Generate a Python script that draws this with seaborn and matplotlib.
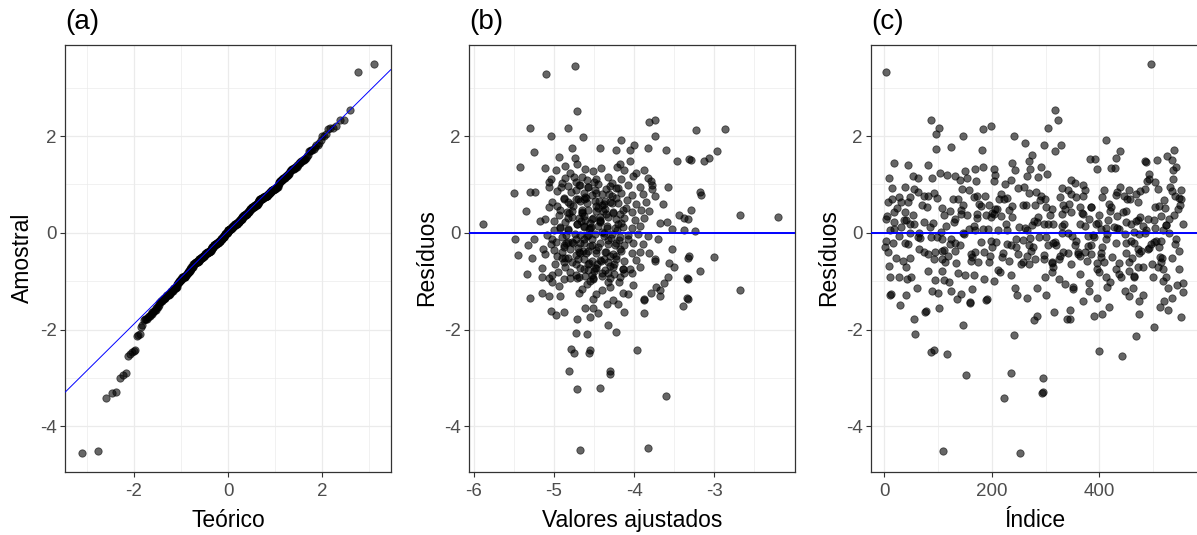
import matplotlib
matplotlib.use("Agg")
import matplotlib.pyplot as plt
from matplotlib.ticker import FixedLocator
import numpy as np
import pandas as pd
import seaborn as sns
from statistics import NormalDist

# ---------------- Panel (c): index vs residual ----------------
idx_c = [4,19,45,8,53,62,14,38,56,62, 14,28,47,7,31,44,19,38,3,53, 19,31,47,56,10,47,65,28,3,16,
         1,7,38,44,65,22,34,41,11,27, 42,50,11,12,41,61,29,55,58,
         87,101,97,147,97,124,81,104,116,131, 88,140,150,168,153,170,144,157,166,73,
         82,93,98,79,127,138,147,107,122,112, 132,143,153,172,73,91,114,147,169,87,
         98,107,122,132,141,73,82,108,119,132, 162,168,113,133,163,108,81,107,138,150,
         166,94,112,121,89,100,124,135,143,163, 160,160,76,77,102,147,87,93,116,152, 110,
         184,199,242,262,181,183,204,238,243,269, 270,206,204,235,225,266,173,188,217,229,
         248,260,269,214,223,238,257,263,177,195, 206,189,204,217,232,173,198,183,211,229,
         251,266,192,180,198,229,245,257,269,201, 235,196,220,248,266,175,195,232,257,269,
         211,215,186,204,235,243,246,266,190,191, 242,235,223,252,
         317,323,305,297,317,328,274,292,303,286, 348,354,370,331,342,348,282,292,299,327,
         357,370,280,300,311,333,336,348,364,370, 330,286,283,296,305,314,364,373,274,330,
         342,271,288,300,317,357,305,320,354,360, 333,342,280,296,311,312,327,348,364,314,
         311,299,325,336,351,364,284,300,351,370, 315,346,283,278,339,345,295,294,295,
         412,439,431,382,392,396,421,428,374,409, 433,438,446,455,467,405,430,452,471,418,
         421,449,384,399,433,381,415,449,458,471, 393,402,412,427,436,447,464,474,379,390,
         412,430,458,464,384,405,471,374,384,402, 424,449,461,377,396,409,455,471,396,430,
         399,436,455,464,465,413,440,419,381,414, 381,447,455,463,396,474,389,404,418,474,
         467,399,442,
         538,485,486,507,525,534,543,537,493,493, 503,537,489,531,509,534,552,475,484,540,
         552,520,549,504,521,546,539,515,529,475, 490,501,555,481,524,504,484,518,543,501,
         515,496,490,510,478,547,512,516,534,498, 481,509,518,547,500,518,523,555,545,528,
         481,555,535,520,512,528,552,501,496,
         # points hidden in the crowded band around zero
         5,18,24,40,48,63,70,85,92,105, 111,125,129,142,149,161,167,179,186,200,
         207,219,226,237,244,255,261,273,279,290, 296,308,313,325,331,343,349,361,367,378,
         385,397,403,414,420,432,437,450,456,468, 473,487,492,505,511,523,530,541,548,9,
         36,66,95,158,209,276,334,388,444,514]
res_c = [3.33,1.44,1.41,1.13,1.17,1.13,0.92,0.94,0.91,0.84, 0.70,0.74,0.74,0.63,0.63,0.63,0.43,0.43,0.29,0.36,
         0.22,0.12,0.19,0.19,0.06,-0.01,-0.01,-0.06,-0.16,-0.21, -0.30,-0.39,-0.21,-0.24,-0.33,-0.52,-0.59,-0.71,-0.92,-0.92,
         -0.95,-0.92,-1.28,-1.27,-1.28,-1.14,-1.50,-1.77,-2.08,
         2.34,2.17,2.05,1.99,1.74,1.77,1.41,1.24,1.20,1.17, 1.13,1.10,1.27,1.32,1.13,1.08,0.91,0.88,0.74,0.77,
         0.77,0.83,0.72,0.53,0.69,0.69,0.58,0.51,0.46,0.37, 0.29,0.39,0.37,0.39,0.22,0.21,0.15,0.00,0.05,-0.09,
         -0.09,-0.12,-0.23,-0.21,-0.26,-0.39,-0.43,-0.37,-0.47,-0.37, -0.43,-0.40,-0.61,-0.62,-0.50,-0.54,-0.79,-0.78,-0.83,-0.87,
         -0.87,-0.97,-0.97,-1.01,-1.21,-1.24,-1.21,-1.37,-1.26,-1.16, -1.43,-1.45,-1.63,-1.61,-1.56,-1.90,-2.47,-2.43,-2.50,-2.94, -4.50,
         2.14,2.21,2.01,1.86,1.72,1.37,1.31,1.44,1.29,1.48, 1.32,1.20,1.08,1.10,1.01,1.17,0.77,0.77,0.81,0.72,
         0.92,0.94,0.82,0.70,0.70,0.55,0.57,0.57,0.60,0.57, 0.50,0.37,0.39,0.34,0.48,0.30,0.32,0.08,0.05,0.05,
         0.12,0.06,0.08,-0.19,-0.16,-0.23,-0.12,-0.14,-0.26,-0.30, -0.25,-0.47,-0.42,-0.43,-0.47,-0.61,-0.61,-0.59,-0.61,-0.64,
         -0.76,-0.80,-0.95,-0.99,-0.87,-1.14,-1.28,-1.35,-1.38,-1.36, -2.11,-2.90,-3.41,-4.54,
         2.53,2.34,2.17,1.81,1.70,1.81,1.60,1.37,1.22,1.15, 1.10,1.03,0.99,0.92,0.88,0.81,0.84,0.77,0.70,0.74,
         0.74,0.77,0.58,0.53,0.50,0.57,0.50,0.43,0.53,0.39, 0.39,0.32,0.22,0.19,0.19,0.19,0.19,0.15,0.17,-0.01,
         -0.01,-0.11,-0.09,-0.09,-0.19,-0.16,-0.26,-0.26,-0.26,-0.40, -0.40,-0.42,-0.54,-0.54,-0.61,-0.63,-0.47,-0.64,-0.47,-0.71,
         -0.81,-0.92,-0.95,-1.06,-1.12,-0.85,-1.14,-1.28,-1.16,-1.40, -1.64,-1.59,-1.72,-1.81,-1.79,-1.79,-2.99,-3.30,-3.28,
         1.92,1.68,1.55,1.53,1.53,1.32,1.34,1.34,0.88,0.88, 0.84,0.94,0.77,0.88,0.81,0.75,0.79,0.70,0.63,0.60,
         0.53,0.46,0.53,0.36,0.34,0.29,0.26,0.22,0.19,0.26, 0.19,0.08,0.10,0.12,0.08,-0.02,0.01,-0.02,-0.06,-0.09,
         -0.12,-0.21,-0.16,-0.21,-0.26,-0.30,-0.33,-0.39,-0.43,-0.42, -0.50,-0.42,-0.52,-0.59,-0.63,-0.61,-0.61,-0.71,-0.74,-0.74,
         -0.81,-0.85,-0.78,-0.92,-0.90,-0.92,-0.92,-1.02,-1.03,-1.12, -1.21,-1.21,-1.31,-1.14,-1.34,-1.40,-1.71,-1.68,-1.54,-1.68,
         -2.14,-2.45,-2.54,
         1.72,1.48,1.46,1.50,1.59,1.50,1.37,1.29,1.22,1.12, 1.05,1.12,1.08,0.94,0.90,0.86,0.88,0.86,0.90,0.77,
         0.69,0.67,0.57,0.53,0.51,0.50,0.36,0.34,0.29,0.32, 0.28,0.26,0.19,0.15,0.17,0.10,-0.01,0.05,-0.12,-0.18,
         -0.16,-0.23,-0.34,-0.30,-0.37,-0.37,-0.50,-0.52,-0.52,-0.64, -0.71,-0.71,-0.74,-0.74,-0.92,-0.99,-0.92,-1.03,-1.08,-1.14,
         -1.28,-1.23,-1.35,-1.40,-1.54,-1.59,-1.74,-1.95,3.49,
         0.35,0.08,0.52,0.27,-0.52,-0.08,0.58,0.12,-0.55,0.02, -0.35,-0.12,0.22,0.47,-0.02,-0.58,0.15,0.55,-0.40,0.40,
         -0.18,-0.50,0.18,0.33,-0.30,-0.65,0.10,-0.38,0.25,0.68, -0.45,0.36,-0.22,-0.55,0.14,0.60,-0.06,-0.44,0.41,-0.27,
         0.53,0.20,-0.50,-0.03,0.46,0.11,-0.62,-0.20,0.70,0.24, -0.42,0.06,-0.31,-0.16,0.56,0.17,-0.01,-0.24,0.72,-0.68,
         0.26,-0.11,-0.39,0.07,0.50,-0.29,0.19,-0.04,0.42,-0.60]

# ---------------- Panel (b): fitted vs residual ----------------
fit_b = [-5.89,-5.30,-4.82,-5.04,-5.25,-5.42,-4.94,-4.78,-5.11,-4.97, -4.86,-4.74,-5.50,-5.30,-5.23,-5.06,-5.35,-5.17,-5.48,-5.32,
         -5.25,-5.45,-5.27,-5.33,-5.15,-5.15,-5.02,-5.30,-5.15,-5.06, -4.93,-5.04,-4.98,-4.88,-4.94,-5.02,-4.88,-4.80,-4.71,-4.72,
         -4.79,-4.75,-4.81,-4.71,-4.71,
         -5.06,-5.04,-4.96,-4.90,-4.86,-4.80,-4.82,-4.73,-4.71,-5.06, -5.02,-4.96,-4.88,-4.82,-4.73,-5.11,-5.00,-4.94,-4.86,-4.78,
         -4.71,-4.92,-4.82,-5.08,-5.02,-5.04,-4.98,-4.90,-4.82,-4.73, -5.13,-5.00,-4.90,-4.80,-4.69,-5.11,-4.96,-4.86,-4.73,-4.99,
         -4.88,-4.82,-5.06,-4.80,-4.71,-4.69,
         -4.74,-5.10,-4.67,-3.83,
         -3.81,-3.74,-3.74,-4.64,-4.16,-4.42,-4.00,-3.83,-3.60,-4.22, -4.05,-3.46,-3.31,-4.05,-4.18,-4.21,-3.57,-3.79,-3.78,-3.64,
         -3.44,-3.37,-3.59,-3.67,-3.52,-3.38,-3.70,-3.53,-3.33,-3.56, -3.50,-3.74,-3.34,-3.57,-3.63,-3.72,-3.67,-3.67,-3.79,-3.87,
         -3.88,-3.39,-3.34,-3.88,-4.12,-4.22,-4.32,-3.96,-4.59,-4.55, -4.56,-4.30,-4.30,-4.42,-3.60,-4.61,-4.51,-4.55,-4.45,-4.51,
         -4.47,-4.34,-4.26,-4.20,-4.14,-4.07,-4.01,-4.03,-4.12,-4.19, -4.30,-4.40,-4.65,-4.59,-4.62,-4.52,
         -4.61,-4.51,-4.41,-4.12,-3.97,-3.87,
         -4.65,-4.47,-4.32,-4.16,-4.01,-3.83,
         -4.69,-4.57,-4.45,-4.30,-4.20,-4.07,-3.93,-3.77,
         -4.63,-4.53,-4.40,-4.28,-4.16,-4.03,-3.89,-3.74,
         -4.67,-4.59,-4.49,-4.38,-4.30,-4.20,-4.09,-3.97,-3.85,
         -4.65,-4.57,-4.47,-4.36,-4.26,-4.14,-4.03,-3.91,-3.81,
         -4.69,-4.61,-4.51,-4.42,-4.32,-4.22,-4.12,-3.99,-3.87,
         -4.63,-4.55,-4.45,-4.34,-4.24,-4.14,-4.03,-3.93,
         -4.67,-4.59,-4.49,-4.38,-4.28,-4.18,-4.07,-3.95,-3.83,
         -4.63,-4.53,-4.42,-4.32,-4.22,-4.12,-4.01,-3.89,
         -4.67,-4.57,-4.47,-4.36,-4.26,-4.16,-4.03,-3.93,-3.81,
         -4.63,-4.53,-4.42,-4.32,-4.22,-4.12,-3.97,-3.74,
         -4.67,-4.57,-4.47,-4.36,-4.26,-4.14,-4.05,-3.93,
         -4.61,-4.51,-4.40,-4.30,-4.18,
         -4.72,-4.60,-4.48,-4.35,-4.55,-4.40,-4.62,-4.45,-4.30,-4.58, -4.40,-4.25,-4.50,-4.35,-4.22,-4.10,-4.20,-4.08,-4.18,-4.33,
         -4.55,-4.70,-4.78,-4.85,-4.92,-5.00,-4.95,-4.88,-4.76,-4.65,
         -3.22,-2.87,-3.29,-3.13,-3.06,-2.97,-3.17,-3.16,-3.29,-2.68, -2.20,-3.24,-3.31,-3.00,-3.18,-3.32,-2.68,-3.32,-3.33,
         # points hidden in the dark core of the cloud
         -4.91,-4.84,-4.77,-4.70,-4.63,-4.56,-4.49,-4.42,-4.35,-4.28, -4.21,-4.14,-4.88,-4.80,-4.73,-4.66,-4.59,-4.52,-4.45,-4.38,
         -4.31,-4.24,-4.17,-4.93,-4.86,-4.79,-4.72,-4.65,-4.58,-4.51, -4.44,-4.37,-4.30,-4.23,-4.16,-4.90,-4.82,-4.75,-4.68,-4.61,
         -4.54,-4.47,-4.40,-4.33,-4.26,-4.19,-4.87,-4.78,-4.71,-4.64, -4.57,-4.50,-4.43,-4.36,-4.29,-4.22,-4.83,-4.76,-4.69,-4.62,
         -4.55,-4.48,-4.41,-4.34,-4.27,-4.85,-4.74,-4.67,-4.60,-4.53, -4.46,-4.39,-4.32,-4.25,-4.81,-4.70,-4.63,-4.56,-4.49,-4.42]
res_b = [0.18,2.17,2.16,2.00,1.67,1.36,1.57,1.76,1.34,1.30, 1.38,1.55,0.82,0.85,0.85,1.05,0.45,0.25,-0.12,-0.25,
         -0.12,-0.45,-0.52,-0.85,-0.73,-0.91,-0.88,-1.34,-1.24,-1.30, -1.30,-1.61,-1.70,-1.64,-1.10,-1.01,-0.95,-0.93,-1.77,-2.06,
         -2.40,-2.49,-2.85,-3.22,2.51,
         0.94,1.12,0.87,1.03,1.14,1.23,0.97,1.04,1.42,0.53, 0.64,0.56,0.70,0.63,0.70,0.29,0.25,0.36,0.22,0.32,
         0.18,0.12,0.08,-0.05,-0.12,-0.23,-0.19,-0.09,-0.19,-0.12, -0.33,-0.36,-0.40,-0.33,-0.40,-0.43,-0.47,-0.53,-0.64,-0.64,
         -0.60,-0.52,-0.93,-0.81,-0.93,-1.25,
         3.45,3.29,-4.48,-4.45,
         2.29,2.34,2.00,1.97,1.91,1.76,1.81,1.76,1.71,1.71, 1.71,1.49,1.52,1.49,1.42,1.35,0.94,1.08,0.90,0.60,
         0.37,0.30,0.23,0.21,0.08,0.06,-0.12,-0.34,-0.53,-0.62, -0.71,-0.59,-0.93,-0.91,-1.03,-1.12,-1.18,-1.30,-1.25,-1.37,
         -1.39,-1.51,-1.34,-1.66,-1.63,-2.04,-1.90,-2.43,-2.10,-2.42, -2.49,-2.86,-2.92,-3.21,-3.38,-1.56,-1.56,-1.73,-1.66,-1.36,
         -1.27,-1.48,-1.39,-1.46,-1.25,-1.27,-1.07,-0.84,-0.84,-1.01, -1.12,-1.18,-1.15,-1.05,-0.74,-0.88,
         1.31,1.27,1.33,1.29,1.24,1.30,
         1.16,1.11,1.15,1.12,1.17,1.13,
         0.99,0.95,1.00,0.96,0.93,0.98,0.95,0.99,
         0.82,0.78,0.81,0.77,0.83,0.79,0.80,0.76,
         0.65,0.61,0.66,0.60,0.64,0.62,0.67,0.60,0.64,
         0.44,0.48,0.45,0.49,0.43,0.47,0.44,0.48,0.45,
         0.31,0.27,0.30,0.26,0.32,0.28,0.30,0.27,0.31,
         0.13,0.10,0.14,0.11,0.09,0.13,0.10,0.14,
         -0.04,-0.07,-0.03,-0.06,-0.02,-0.08,-0.05,-0.03,-0.07,
         -0.21,-0.25,-0.22,-0.24,-0.20,-0.26,-0.22,-0.24,
         -0.41,-0.38,-0.42,-0.39,-0.43,-0.37,-0.41,-0.39,-0.42,
         -0.55,-0.59,-0.56,-0.60,-0.54,-0.58,-0.57,-0.55,
         -0.72,-0.76,-0.73,-0.77,-0.71,-0.75,-0.74,-0.70,
         -0.90,-0.93,-0.89,-0.94,-0.92,
         0.88,0.72,0.55,0.38,0.20,0.02,-0.12,-0.30,-0.48,-0.65, -0.82,-0.65,1.05,0.90,0.72,0.52,0.18,-0.12,-0.33,-1.02,
         -1.00,-0.55,0.45,-0.05,0.48,0.05,-0.80,-0.25,-0.20,0.40,
         2.12,2.15,1.51,1.48,1.54,1.69,0.84,0.78,0.48,0.37, 0.33,0.03,-0.47,-0.49,-0.79,-0.95,-1.18,-1.37,0.29,
         0.95,0.42,-0.18,0.70,0.15,-0.62,0.88,0.33,-0.40,1.02, 0.05,-0.75,-0.30,0.60,-0.88,0.25,1.10,-0.12,0.52,-0.55,
         0.80,-0.25,0.38,0.10,-0.70,0.85,-0.45,0.48,-0.05,-0.95, 0.66,0.00,-0.68,0.92,0.20,-0.52,0.30,1.15,-0.22,0.75,
         0.12,-0.35,0.58,-0.82,0.40,-0.15,0.72,-0.60,0.18,-0.38, 0.95,-0.78,0.22,0.65,-0.10,-0.48,0.05,0.55,-0.92,0.35,
         -0.28,0.82,-0.58,0.15,0.62,-0.20,-0.02,0.98,-0.42,0.28, -0.65,0.45,-0.15,-0.85,0.40,-0.32,0.70,0.08,-0.72,0.25]

# ---------------- Labels ----------------
titles = ["(a)", "(b)", "(c)"]
xlabels = ["Teórico", "Valores ajustados", "Índice"]
ylabels = ["Amostral", "Resíduos", "Resíduos"]

# ---------------- Derived data (Q-Q) ----------------
res_sorted = np.sort(np.array(res_c))
n = len(res_sorted)
nd = NormalDist()
theo = np.array([nd.inv_cdf((i - 0.5) / n) for i in range(1, n + 1)])
q1, q3 = np.quantile(res_sorted, [0.25, 0.75])
z1, z3 = nd.inv_cdf(0.25), nd.inv_cdf(0.75)
qq_slope = (q3 - q1) / (z3 - z1)
qq_int = q1 - qq_slope * z1

df_a = pd.DataFrame({"teorico": theo, "amostral": res_sorted})
df_b = pd.DataFrame({"ajustado": fit_b, "residuo": res_b})
df_c = pd.DataFrame({"indice": idx_c, "residuo": res_c})

# ---------------- Styling ----------------
sns.set_theme(style="white")
plt.rcParams['font.family'] = ['Liberation Sans', 'DejaVu Sans']

W, H = 1197, 535
fig = plt.figure(figsize=(W / 100, H / 100), dpi=100)

def fpos(left, right, top, bottom):
    return [left / W, 1 - bottom / H, (right - left) / W, (bottom - top) / H]

axA = fig.add_axes(fpos(65, 391, 44.5, 471.5))
axB = fig.add_axes(fpos(469, 795, 44.5, 471.5))
axC = fig.add_axes(fpos(871, 1199, 44.5, 471.5))

point_kw = dict(color="black", alpha=0.6, s=28, edgecolor="black", linewidth=0.6, legend=False)

sns.scatterplot(data=df_a, x="teorico", y="amostral", ax=axA, zorder=3, **point_kw)
axA.axline((0, qq_int), slope=qq_slope, color="blue", lw=0.7, zorder=4)

sns.scatterplot(data=df_b, x="ajustado", y="residuo", ax=axB, zorder=3, **point_kw)
axB.axhline(0, color="blue", lw=1.4, zorder=4)

sns.scatterplot(data=df_c, x="indice", y="residuo", ax=axC, zorder=3, **point_kw)
axC.axhline(0, color="blue", lw=1.4, zorder=4)

ylim = (-4.93, 3.89)
specs = [
    (axA, (-3.46, 3.46), [-2, 0, 2], [-3, -1, 1, 3], ["-2", "0", "2"]),
    (axB, (-6.06, -1.99), [-6, -5, -4, -3], [-5.5, -4.5, -3.5, -2.5], ["-6", "-5", "-4", "-3"]),
    (axC, (-24.6, 585), [0, 200, 400], [100, 300, 500], ["0", "200", "400"]),
]
for i, (ax, xl, xt, xm, xtl) in enumerate(specs):
    ax.set_xlim(*xl)
    ax.set_ylim(*ylim)
    ax.set_facecolor("white")
    ax.xaxis.set_major_locator(FixedLocator(xt))
    ax.xaxis.set_minor_locator(FixedLocator(xm))
    ax.set_xticklabels(xtl)
    ax.yaxis.set_major_locator(FixedLocator([-4, -2, 0, 2]))
    ax.yaxis.set_minor_locator(FixedLocator([-3, -1, 1, 3]))
    ax.set_yticklabels(["-4", "-2", "0", "2"])
    ax.grid(True, which="major", color="#EBEBEB", lw=0.9, zorder=0)
    ax.grid(True, which="minor", color="#EBEBEB", lw=0.5, zorder=0)
    ax.set_axisbelow(True)
    for sp in ax.spines.values():
        sp.set_visible(True)
        sp.set_color("#333333")
        sp.set_linewidth(0.9)
    ax.tick_params(axis="both", which="major", length=3.5, width=0.8, color="#333333",
                   labelsize=13.5, labelcolor="#4D4D4D", bottom=True, left=True)
    ax.tick_params(axis="x", which="major", pad=5)
    ax.tick_params(axis="y", which="major", pad=2.5)
    ax.tick_params(axis="both", which="minor", length=0)
    ax.set_xlabel(xlabels[i], fontsize=16.5, color="black", labelpad=6)
    ax.set_ylabel(ylabels[i], fontsize=16.5, color="black", labelpad=4)
    ax.set_title(titles[i], loc="left", fontsize=20, color="black", pad=11)

fig.savefig("out.png", dpi=100)
